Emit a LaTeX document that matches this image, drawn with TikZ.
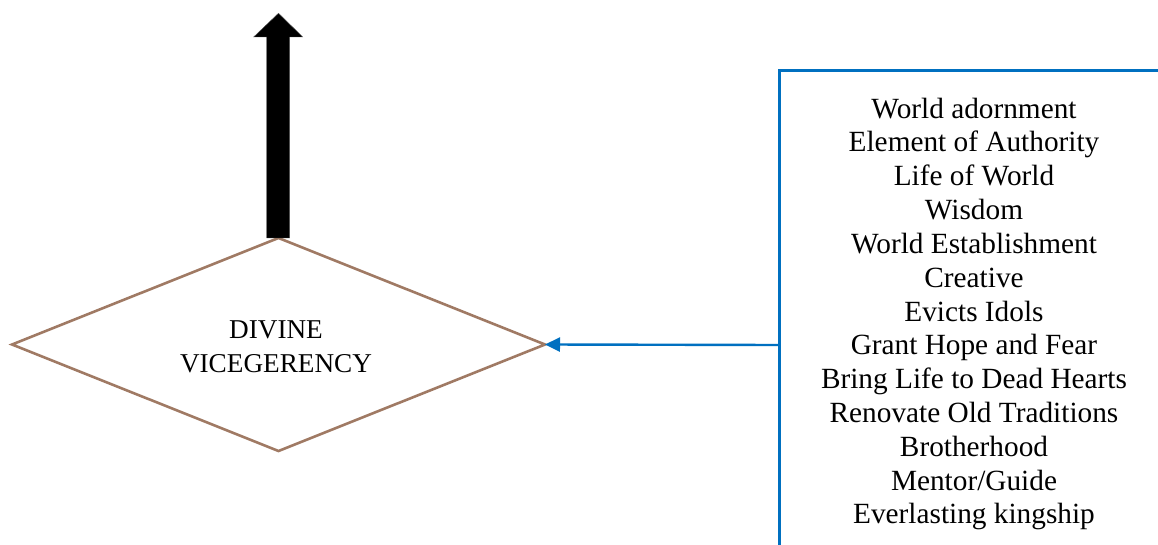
\documentclass[tikz,border=0pt]{standalone}
\usepackage{fontspec}
\setmainfont{Liberation Serif}
\usetikzlibrary{shapes.geometric,arrows.meta,calc}

\definecolor{diamondbrown}{RGB}{160,122,100}
\definecolor{linkblue}{RGB}{0,112,192}

\tikzset{
  decision/.style={diamond, draw=diamondbrown, line width=2.6pt, aspect=2.5,
    minimum width=533pt, minimum height=213pt, inner sep=0pt, outer sep=0pt},
  decisionlabel/.style={align=center, inner sep=0pt, font=\fontsize{27.2}{34}\selectfont},
  listtext/.style={align=center, inner sep=0pt, font=\fontsize{29.3}{33.83}\selectfont},
  bracketline/.style={draw=linkblue, line width=2.6pt},
  feed/.style={draw=linkblue, line width=2.4pt, -{Triangle[length=15pt,width=14pt]}},
  bigarrow/.style={fill=black, draw=black!70, line width=0.4pt}
}

\begin{document}
\begin{tikzpicture}[x=1pt,y=-1pt]
  \useasboundingbox (0,0) rectangle (1158,545);

  % central decision diamond and its label
  \node[decision] (dv) at (278.5,344.5) {};
  \node[decisionlabel] (dvlabel) at ($(dv.center)+(-2.5,2.5)$) {DIVINE\\VICEGERENCY};

  % block arrow rising from the top vertex
  \fill[bigarrow]
    ($(dv.north)+(-11.8,0)$) -- ($(dv.north)+(-11.8,-201)$)
    -- ($(dv.north)+(-24.8,-201)$) -- ($(dv.north)+(0,-224.7)$)
    -- ($(dv.north)+(24.2,-201)$) -- ($(dv.north)+(11.2,-201)$)
    -- ($(dv.north)+(11.2,0)$) -- cycle;

  % bracket framing the list of attributes
  \coordinate (brTR) at (1158,70.5);
  \coordinate (brTL) at (779.5,70.5);
  \coordinate (brBL) at (779.5,545);
  \coordinate (brTap) at (779.5,345);
  \draw[bracketline] (brTR) -- (brTL) -- (brBL);

  % attribute list
  \node[listtext, anchor=north] (attrs) at (974,97.5) {World adornment\\
    Element of Authority\\
    Life of World\\
    Wisdom\\
    World Establishment\\
    Creative\\
    Evicts Idols\\
    Grant Hope and Fear\\
    Bring Life to Dead Hearts\\
    Renovate Old Traditions\\
    Brotherhood\\
    Mentor/Guide\\
    Everlasting kingship};

  % link from the bracket into the diamond
  \draw[feed] (brTap) -- (dv.east);
\end{tikzpicture}
\end{document}
